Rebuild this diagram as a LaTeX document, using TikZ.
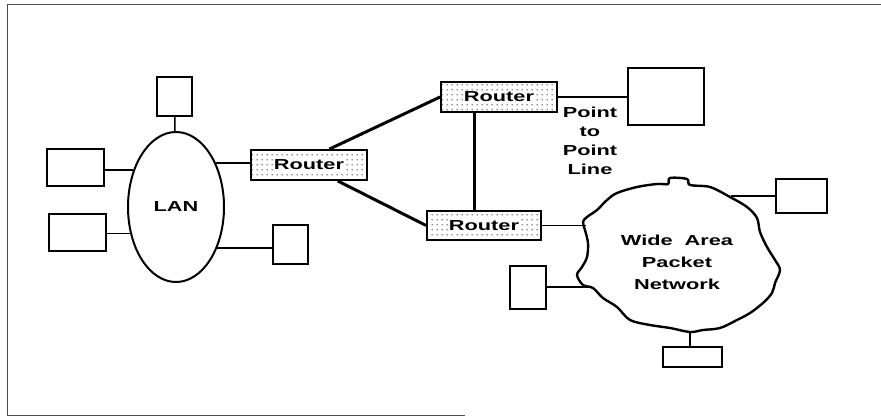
\documentclass[tikz,border=0pt]{standalone}
\usepackage{fontspec}
\newfontfamily\netfont[FakeStretch=1.5]{Liberation Sans}
\usetikzlibrary{shapes.geometric,patterns.meta}

\setlength\fboxsep{1pt}

% dotted fill of the router boxes
\tikzdeclarepattern{
    name=routerdots,
    type=uncolored,
    bounding box={(0pt,0pt) and (5pt,5pt)},
    tile size={(5pt,5pt)},
    code={\pgfpathcircle{\pgfpoint{2.5pt}{2.5pt}}{0.75pt}\pgfusepath{fill}}
}

\begin{document}
\begin{tikzpicture}[
    x=1pt, y=-1pt,
    every node/.style={font=\netfont\bfseries\fontsize{14.5}{19}\selectfont},
    pc/.style={
        draw,
        line width=2pt,
        inner sep=0pt
    },
    router/.style={
        draw,
        line width=1.8pt,
        pattern=routerdots,
        minimum width=116pt,
        minimum height=30pt,
        inner sep=0pt
    },
    link/.style={line width=1.5pt},
    trunk/.style={line width=3pt}
]
\useasboundingbox (0,0) rectangle (881,417);

% Frame
\draw[black!70, line width=1pt] (881,5) -- (7,5) -- (7,415) -- (465,415);

% LAN
\node[draw, ellipse, line width=2pt, minimum width=96pt, minimum height=150pt, inner sep=0pt]
    (lan) at (176,207) {LAN};

\node[pc, minimum width=35pt, minimum height=39pt] (pcTop) at (174.5,96.5) {};
\node[pc, minimum width=57pt, minimum height=37pt] (pcL1) at (75.5,167.5) {};
\node[pc, minimum width=57pt, minimum height=37pt] (pcL2) at (77.5,232.5) {};
\node[pc, minimum width=35pt, minimum height=39pt] (pcR) at (290.5,244.5) {};

% Routers
\node[router] (rtA) at (309,165) {\colorbox{white}{Router}};
\node[router] (rtB) at (499,97) {\colorbox{white}{Router}};
\node[router, minimum width=114pt, minimum height=29pt] (rtC) at (484,225.5) {\colorbox{white}{Router}};

% Point to point line
\node[pc, minimum width=76pt, minimum height=57pt] (ptp) at (666,96.5) {};
\node[align=center] (ptpLabel) at (590,141) {Point\\to\\Point\\Line};

% Wide area network
\draw[line width=2.4pt] plot[smooth cycle, tension=0.55] coordinates {
    (617,193) (637,187) (657,184) (668,184) (670,178) (687,179) (690,185)
    (710,187) (730,197) (747,207) (757,218) (760,232) (767,247) (775,260)
    (780,270) (775,283) (772,293) (763,303) (750,313) (737,320) (720,328)
    (703,330) (690,332) (670,328) (650,325) (630,320) (617,307) (603,298)
    (593,288) (583,285) (577,275) (582,267) (587,257) (588,243) (585,230)
    (583,222) (587,217) (597,210) (607,200)
};
\node[align=center, font=\netfont\bfseries\fontsize{14.5}{22}\selectfont]
    (wan) at (677,262) {Wide\ \ Area\\Packet\\Network};
\coordinate (wanW) at (586,227);
\coordinate (wanSW) at (588,287);
\coordinate (wanNE) at (731,196);
\coordinate (wanS) at (690,331);

\node[pc, minimum width=51pt, minimum height=34pt] (pcW1) at (801.5,196) {};
\node[pc, minimum width=36pt, minimum height=43pt] (pcW2) at (528,287.5) {};
\node[pc, minimum width=59pt, minimum height=20pt] (pcW3) at (692.5,357) {};

% Connections
\draw[link] (pcTop) -- (lan);
\draw[link] (lan.139) -- (lan.139 -| pcL1.east);
\draw[link] (lan.210) -- (lan.210 -| pcL2.east);
\draw[link] (lan.-45) -- (lan.-45 -| pcR.west);
\draw[link] (lan.48) -- (lan.48 -| rtA.west);

\draw[trunk] (rtA.38) -- (rtB.west);
\draw[trunk] (rtA.-29) -- (rtC.west);
\draw[trunk] (rtC.122) -- (rtC.122 |- rtB.south);

\draw[link] (rtB.east) -- (rtB.east -| ptp.west);
\draw[link] (rtC.east) -- (rtC.east -| wanW);
\draw[link] (wanNE) -- (wanNE -| pcW1.west);
\draw[link] (wanSW) -- (wanSW -| pcW2.east);
\draw[link] (wanS) -- (wanS |- pcW3.north);

\end{tikzpicture}
\end{document}
